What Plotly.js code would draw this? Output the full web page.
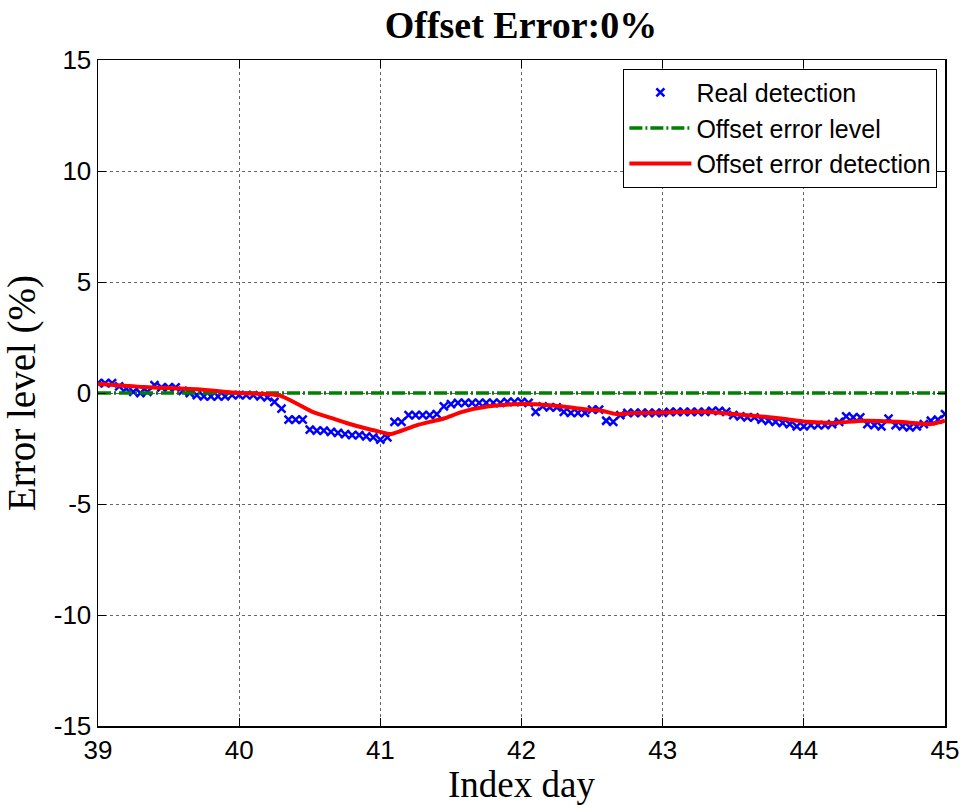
<!DOCTYPE html>
<html>
<head>
<meta charset="utf-8">
<script src="https://cdn.plot.ly/plotly-3.0.1.min.js"></script>
<style>
  html, body { margin: 0; padding: 0; background: #fff; }
  #chart { width: 963px; height: 805px; }
</style>
</head>
<body>
<div id="chart"></div>
<script>
// Real detection samples, one every 0.05 day from day 39 to day 45
const realStart = 39;
const realStep = 0.05;
const realValues = [
  0.45, 0.45, 0.45, 0.3, 0.2, 0.05, 0.0, 0.05, 0.35, 0.25,
  0.25, 0.25, 0.1, 0.0, -0.1, -0.15, -0.15, -0.15, -0.15, -0.1,
  -0.1, -0.1, -0.1, -0.15, -0.2, -0.4, -0.7, -1.2, -1.2, -1.2,
  -1.65, -1.7, -1.7, -1.75, -1.8, -1.85, -1.9, -1.9, -1.95, -2.0,
  -2.1, -2.0, -1.3, -1.3, -1.0, -1.0, -1.0, -1.0, -0.95, -0.6,
  -0.5, -0.45, -0.45, -0.45, -0.45, -0.45, -0.45, -0.45, -0.4, -0.4,
  -0.4, -0.45, -0.85, -0.6, -0.65, -0.65, -0.85, -0.9, -0.9, -0.9,
  -0.75, -0.75, -1.25, -1.3, -1.0, -0.9, -0.9, -0.9, -0.9, -0.9,
  -0.9, -0.85, -0.85, -0.85, -0.85, -0.85, -0.85, -0.8, -0.8, -0.85,
  -1.0, -1.05, -1.1, -1.1, -1.2, -1.25, -1.3, -1.35, -1.4, -1.5,
  -1.5, -1.45, -1.45, -1.45, -1.4, -1.3, -1.05, -1.1, -1.1, -1.4,
  -1.45, -1.5, -1.15, -1.45, -1.5, -1.55, -1.5, -1.4, -1.25, -1.2,
  -0.95
];
const realDays = realValues.map((_, i) => +(realStart + i * realStep).toFixed(2));

// Smoothed offset error detection
const detDays = [39.0, 39.33, 39.7, 40.0, 40.2, 40.29, 40.4, 40.52, 40.65, 40.76,
  40.9, 41.0, 41.07, 41.15, 41.26, 41.35, 41.45, 41.58, 41.77, 42.0,
  42.2, 42.48, 42.57, 42.67, 42.8, 43.0, 43.3, 43.5, 43.6, 43.84,
  44.03, 44.2, 44.43, 44.67, 44.9, 45.0];
const detValues = [0.42, 0.27, 0.17, 0.0, -0.05, -0.12, -0.45, -0.85, -1.12, -1.35,
  -1.6, -1.75, -1.85, -1.7, -1.45, -1.3, -1.15, -0.85, -0.6, -0.5,
  -0.55, -0.75, -0.8, -0.95, -0.9, -0.88, -0.85, -0.95, -1.0, -1.15,
  -1.3, -1.35, -1.25, -1.3, -1.4, -1.25];

// Configured offset error level
const levelDays = [39, 45];
const levelValues = [0, 0];

const xTicks = [39, 40, 41, 42, 43, 44, 45];
const yTicks = [-15, -10, -5, 0, 5, 10, 15];

const traces = [
  {
    x: realDays, y: realValues, name: 'Real detection',
    mode: 'markers', type: 'scatter',
    marker: { symbol: 'x-thin', size: 8, color: '#0000ff', line: { color: '#0000ff', width: 2.5 } }
  },
  {
    x: levelDays, y: levelValues, name: 'Offset error level',
    mode: 'lines', type: 'scatter',
    line: { color: '#008000', width: 3.5, dash: '13px,3px,2px,3px' }
  },
  {
    x: detDays, y: detValues, name: 'Offset error detection',
    mode: 'lines', type: 'scatter',
    line: { color: '#ff0000', width: 4, shape: 'spline', smoothing: 0.7 }
  }
];

const axisCommon = {
  showline: true, mirror: 'ticks', linecolor: '#000', linewidth: 1.5,
  ticks: 'inside', ticklen: 8, tickwidth: 1, tickcolor: '#000',
  showgrid: true, gridcolor: '#666', griddash: 'dot', gridwidth: 1,
  zeroline: false,
  tickfont: { family: 'Arial, Liberation Sans, sans-serif', size: 26, color: '#000' }
};

const layout = {
  width: 963, height: 805,
  margin: { l: 98, r: 18, t: 60, b: 79 },
  paper_bgcolor: '#fff', plot_bgcolor: '#fff',
  title: {
    text: '<b>Offset Error:0%</b>',
    font: { family: 'Liberation Serif, Times New Roman, serif', size: 38, color: '#000' },
    x: 0.541, xanchor: 'center', y: 0.969, yanchor: 'middle'
  },
  xaxis: Object.assign({}, axisCommon, {
    range: [39, 45], tickvals: xTicks, ticktext: xTicks.map(String),
    title: { text: 'Index day', standoff: 10,
      font: { family: 'Liberation Serif, Times New Roman, serif', size: 37, color: '#000' } }
  }),
  yaxis: Object.assign({}, axisCommon, {
    range: [-15, 15], tickvals: yTicks, ticktext: yTicks.map(String),
    title: { text: 'Error level (%)', standoff: 8,
      font: { family: 'Liberation Serif, Times New Roman, serif', size: 39, color: '#000' } }
  }),
  legend: {
    x: 0.991, xanchor: 'right', y: 0.987, yanchor: 'top',
    bgcolor: '#fff', bordercolor: '#000', borderwidth: 1,
    font: { family: 'Arial, Liberation Sans, sans-serif', size: 25, color: '#000' },
    itemwidth: 62, tracegroupgap: 0
  },
  showlegend: true
};

Plotly.newPlot('chart', traces, layout, { displayModeBar: false, staticPlot: true });
</script>
</body>
</html>
